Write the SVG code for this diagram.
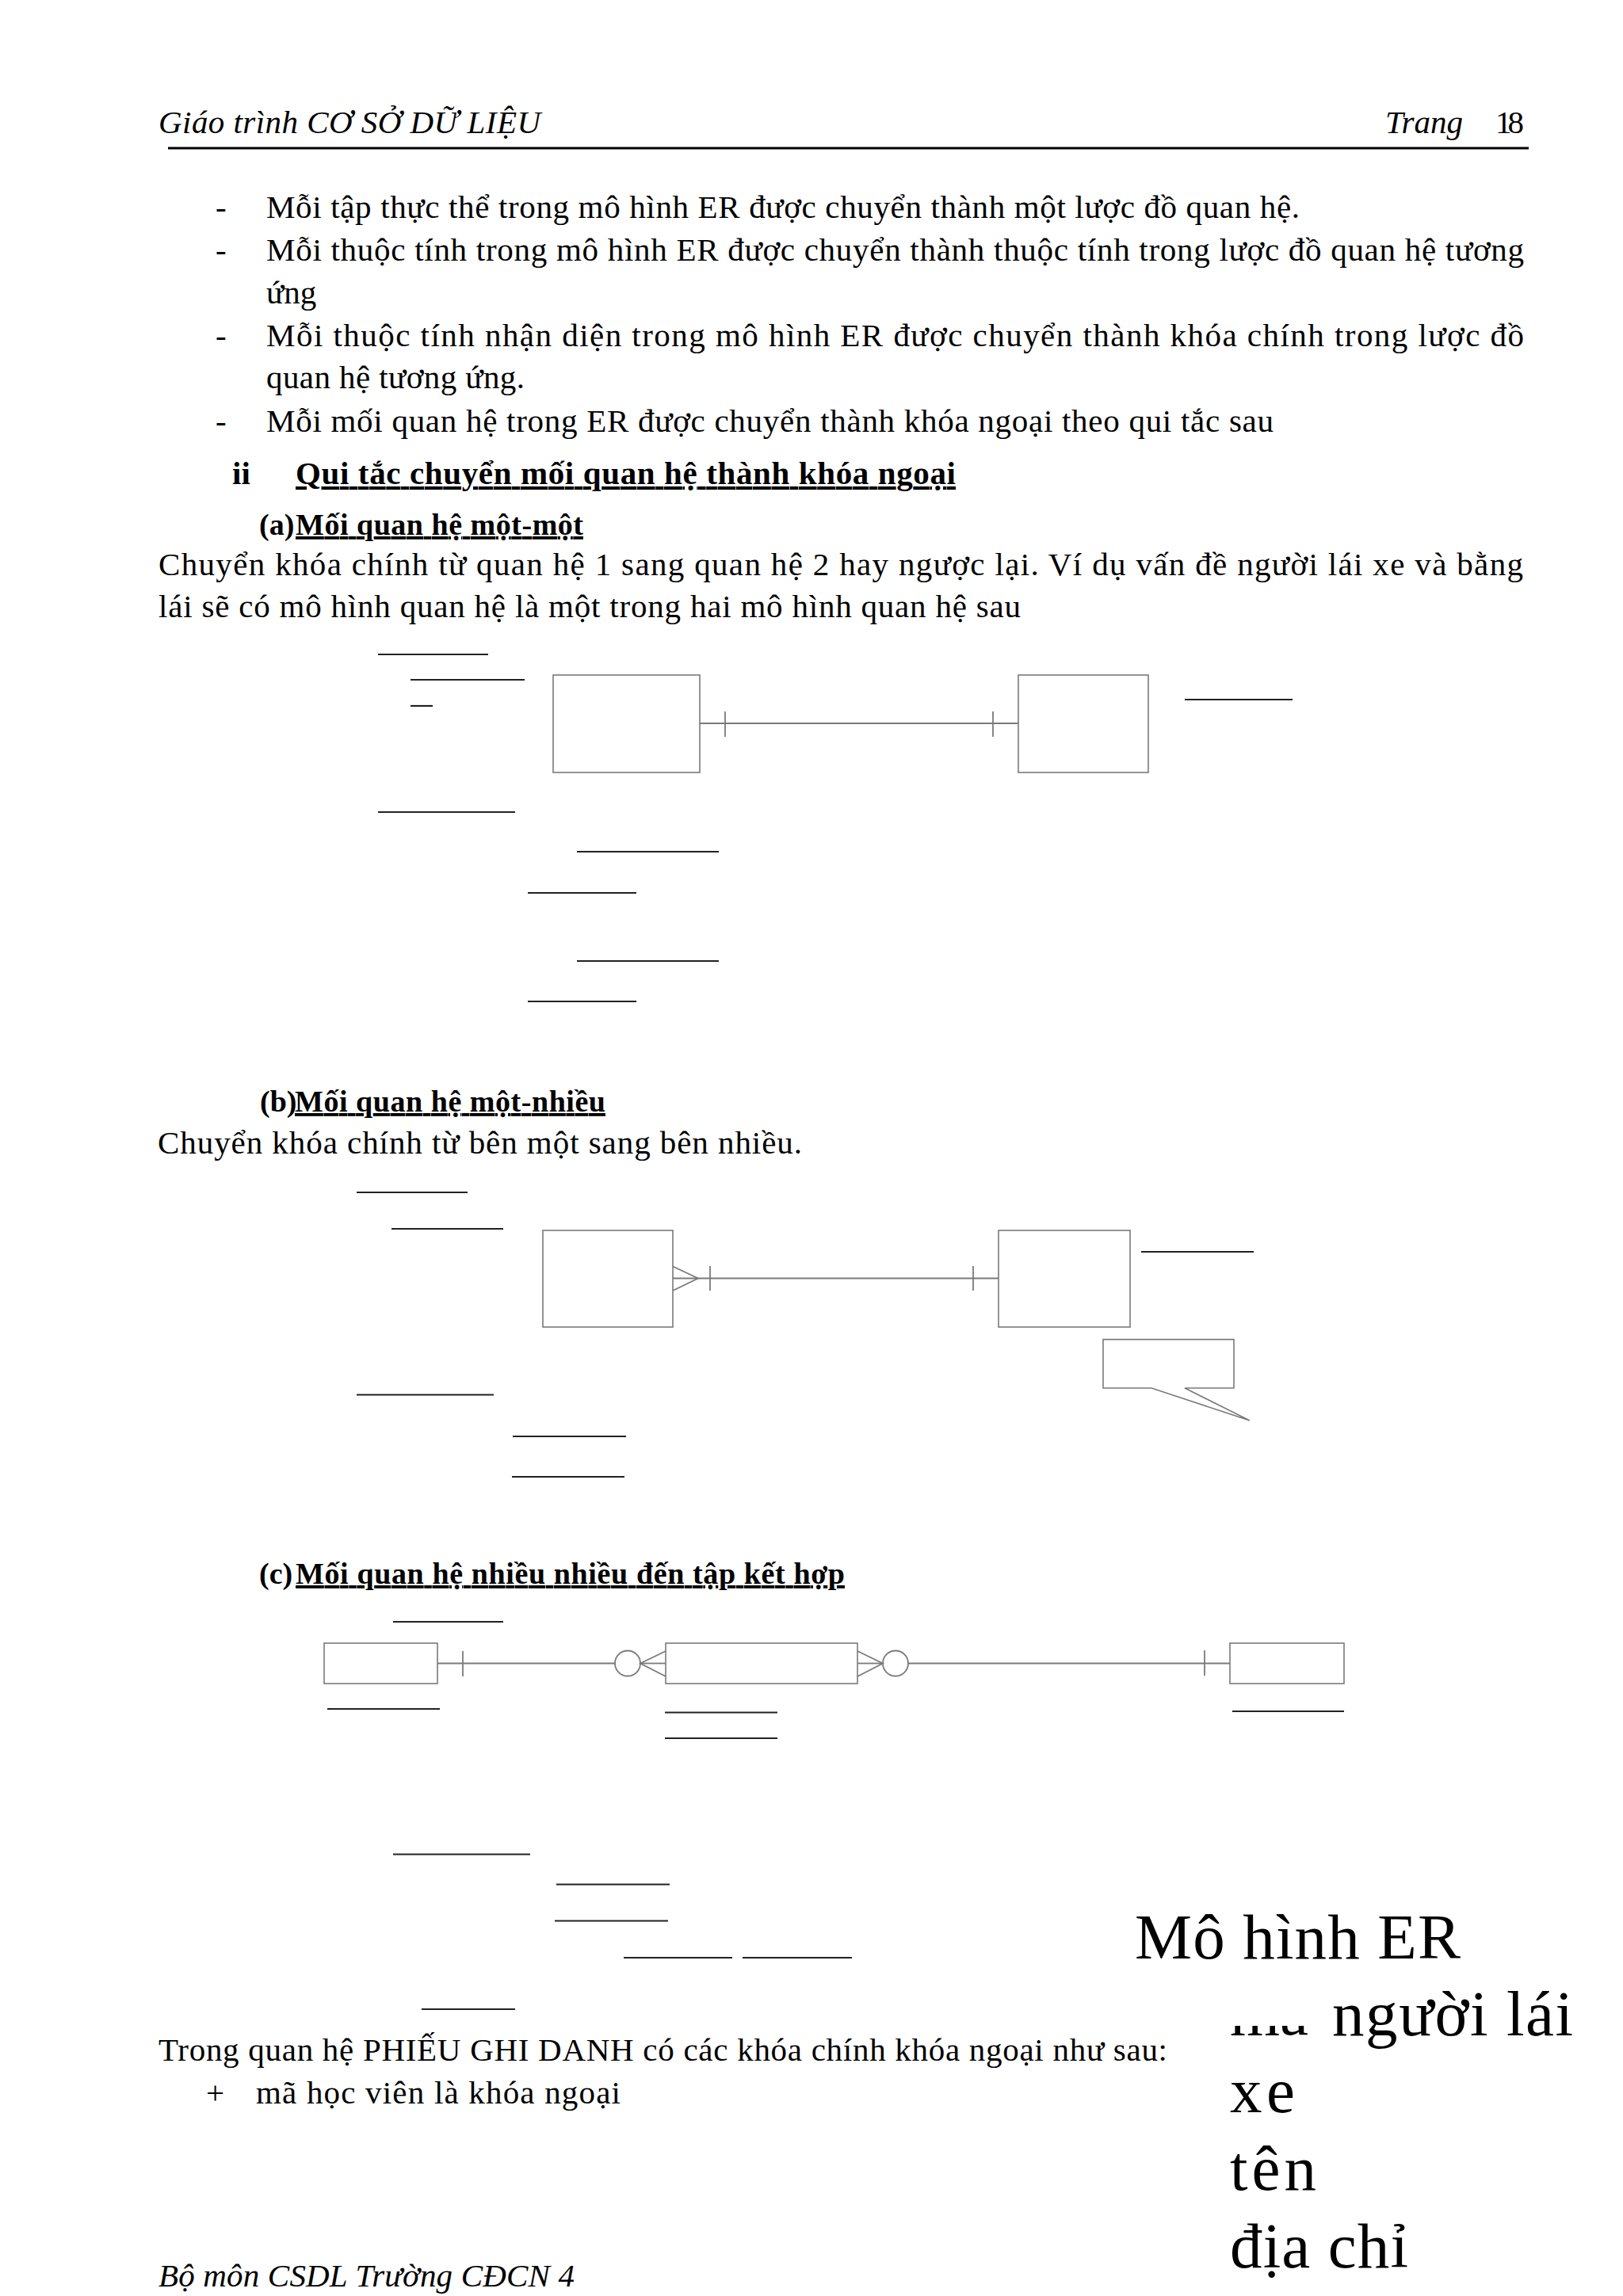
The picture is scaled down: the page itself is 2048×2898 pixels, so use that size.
<svg xmlns="http://www.w3.org/2000/svg" width="2048" height="2898" viewBox="0 0 2048 2898">
<defs>
<style>
.t{font-family:"Liberation Serif","Times New Roman",serif;font-size:41px;fill:#000}
.i{font-style:italic}
.b{font-weight:bold}
.h{font-size:38px;font-weight:bold}
.u{text-decoration:underline}
.big{font-family:"Liberation Serif","Times New Roman",serif;font-size:81px;fill:#000}
.ent{fill:#fff;stroke:#7a7a7a;stroke-width:1.6}
.con{fill:none;stroke:#7a7a7a;stroke-width:1.8}
.key{stroke:#222;stroke-width:2.2}
</style>
<clipPath id="maclip"><rect x="1540" y="2557" width="140" height="40"/></clipPath>
</defs>
<rect x="0" y="0" width="2048" height="2898" fill="#fff"/>

<g id="page-text">
<text class="t i" x="200" y="168" textLength="482" lengthAdjust="spacing">Giáo trình CƠ SỞ DỮ LIỆU</text>
<text class="t i" x="1748" y="168" textLength="98" lengthAdjust="spacing">Trang</text>
<text class="t" x="1887" y="168" textLength="36" lengthAdjust="spacing">18</text>
<line x1="212" y1="187" x2="1929" y2="187" stroke="#000" stroke-width="3"/>

<text class="t" x="272" y="275">-</text>
<text class="t" x="336" y="275" textLength="1304" lengthAdjust="spacing">Mỗi tập thực thể trong mô hình ER được chuyển thành một lược đồ quan hệ.</text>
<text class="t" x="272" y="329">-</text>
<text class="t" x="336" y="329" textLength="1587" lengthAdjust="spacing">Mỗi thuộc tính trong mô hình ER được chuyển thành thuộc tính trong lược đồ quan hệ tương</text>
<text class="t" x="336" y="383">ứng</text>
<text class="t" x="272" y="437">-</text>
<text class="t" x="336" y="437" textLength="1587" lengthAdjust="spacing">Mỗi thuộc tính nhận diện trong mô hình ER được chuyển thành khóa chính trong lược đồ</text>
<text class="t" x="336" y="490" textLength="326" lengthAdjust="spacing">quan hệ tương ứng.</text>
<text class="t" x="272" y="545">-</text>
<text class="t" x="336" y="545" textLength="1271" lengthAdjust="spacing">Mỗi mối quan hệ trong ER được chuyển thành khóa ngoại theo qui tắc sau</text>

<text class="t b" x="293" y="611">ii</text>
<text class="t b u" x="373" y="611" textLength="833" lengthAdjust="spacing">Qui tắc chuyển mối quan hệ thành khóa ngoại</text>

<text class="t h" x="327" y="675">(a)</text>
<text class="t h u" x="373" y="675" textLength="363" lengthAdjust="spacing">Mối quan hệ một-một</text>
<text class="t" x="200" y="726" textLength="1722" lengthAdjust="spacing">Chuyển khóa chính từ quan hệ 1 sang quan hệ 2 hay ngược lại. Ví dụ vấn đề người lái xe và bằng</text>
<text class="t" x="200" y="779" textLength="1088" lengthAdjust="spacing">lái sẽ có mô hình quan hệ là một trong hai mô hình quan hệ sau</text>

<text class="t h" x="328" y="1403">(b)</text>
<text class="t h u" x="372" y="1403" textLength="392" lengthAdjust="spacing">Mối quan hệ một-nhiều</text>
<text class="t" x="199" y="1456" textLength="813" lengthAdjust="spacing">Chuyển khóa chính từ bên một sang bên nhiều.</text>

<text class="t h" x="327" y="1999">(c)</text>
<text class="t h u" x="373" y="1999" textLength="693" lengthAdjust="spacing">Mối quan hệ nhiều nhiều đến tập kết hợp</text>

<text class="t" x="200" y="2601" textLength="1273" lengthAdjust="spacing">Trong quan hệ PHIẾU GHI DANH có các khóa chính khóa ngoại như sau:</text>
<text class="t" x="260" y="2655">+</text>
<text class="t" x="323" y="2655" textLength="460" lengthAdjust="spacing">mã học viên là khóa ngoại</text>

<text class="t i" x="200" y="2886" textLength="525" lengthAdjust="spacing">Bộ môn CSDL Trường CĐCN 4</text>
</g>

<g id="big-label">
<text class="big" x="1432" y="2472" textLength="411" lengthAdjust="spacing">Mô hình ER</text>
<text class="big" x="1552" y="2569" clip-path="url(#maclip)">mã</text>
<text class="big" x="1681" y="2569" textLength="304" lengthAdjust="spacing">người lái</text>
<text class="big" x="1552" y="2666" textLength="82" lengthAdjust="spacing">xe</text>
<text class="big" x="1552" y="2764" textLength="109" lengthAdjust="spacing">tên</text>
<text class="big" x="1552" y="2862" textLength="225" lengthAdjust="spacing">địa chỉ</text>
</g>

<!-- (a) one-to-one -->
<g id="a-entity-left"><rect class="ent" x="698" y="852" width="185" height="123"/></g>
<g id="a-entity-right"><rect class="ent" x="1285" y="852" width="164" height="123"/></g>
<g id="a-keys">
<line class="key" x1="477" y1="826" x2="616" y2="826"/>
<line class="key" x1="518" y1="858" x2="662" y2="858"/>
<line class="key" x1="518" y1="891" x2="546" y2="891"/>
<line class="key" x1="1495" y1="883" x2="1631" y2="883"/>
<line class="key" x1="477" y1="1025" x2="650" y2="1025"/>
<line class="key" x1="728" y1="1075" x2="907" y2="1075"/>
<line class="key" x1="666" y1="1127" x2="803" y2="1127"/>
<line class="key" x1="728" y1="1213" x2="907" y2="1213"/>
<line class="key" x1="666" y1="1264" x2="803" y2="1264"/>
</g>

<!-- (b) one-to-many -->
<g id="b-entity-left"><rect class="ent" x="685" y="1553" width="164" height="122"/></g>
<g id="b-entity-right"><rect class="ent" x="1260" y="1553" width="166" height="122"/></g>
<g id="b-callout"><path class="ent" d="M1392,1690.6 H1557 V1752 H1495 L1577,1793 L1453,1752 H1392 Z"/></g>
<g id="b-keys">
<line class="key" x1="450" y1="1505" x2="590" y2="1505"/>
<line class="key" x1="494" y1="1551" x2="635" y2="1551"/>
<line class="key" x1="1440" y1="1580" x2="1582" y2="1580"/>
<line class="key" x1="450" y1="1760.5" x2="623" y2="1760.5"/>
<line class="key" x1="647" y1="1813" x2="790" y2="1813"/>
<line class="key" x1="646" y1="1864" x2="788" y2="1864"/>
</g>

<!-- (c) many-to-many -->
<g id="c-entity-left"><rect class="ent" x="409" y="2074" width="143" height="51"/></g>
<g id="c-entity-middle"><rect class="ent" x="840" y="2074" width="242" height="51"/></g>
<g id="c-entity-right"><rect class="ent" x="1552" y="2074" width="144" height="51"/></g>
<g id="c-keys">
<line class="key" x1="496" y1="2047" x2="635" y2="2047"/>
<line class="key" x1="413" y1="2157" x2="555" y2="2157"/>
<line class="key" x1="839" y1="2161.5" x2="981" y2="2161.5"/>
<line class="key" x1="839" y1="2194" x2="981" y2="2194"/>
<line class="key" x1="1555" y1="2160" x2="1696" y2="2160"/>
<line class="key" x1="496" y1="2340.5" x2="669" y2="2340.5"/>
<line class="key" x1="702" y1="2378.5" x2="845" y2="2378.5"/>
<line class="key" x1="700" y1="2424.5" x2="843" y2="2424.5"/>
<line class="key" x1="787" y1="2471" x2="924" y2="2471"/>
<line class="key" x1="937" y1="2471" x2="1075" y2="2471"/>
<line class="key" x1="532" y1="2536" x2="650" y2="2536"/>
</g>

<g id="connectors">
<!-- (a) -->
<line class="con" x1="883" y1="913" x2="1285" y2="913"/>
<line class="con" x1="915" y1="898" x2="915" y2="930"/>
<line class="con" x1="1253" y1="898" x2="1253" y2="930"/>
<!-- (b) -->
<line class="con" x1="849" y1="1613.5" x2="1260" y2="1613.5"/>
<polyline class="con" points="849,1598.5 881,1613.5 849,1629"/>
<line class="con" x1="896" y1="1598" x2="896" y2="1629"/>
<line class="con" x1="1228" y1="1598" x2="1228" y2="1629"/>
<!-- (c) -->
<line class="con" x1="552" y1="2099.5" x2="776" y2="2099.5"/>
<line class="con" x1="584" y1="2084" x2="584" y2="2116"/>
<circle class="con" cx="792" cy="2099.5" r="16"/>
<line class="con" x1="808" y1="2099.5" x2="840" y2="2099.5"/>
<polyline class="con" points="840,2084 808,2099.5 840,2116"/>
<line class="con" x1="1082" y1="2099.5" x2="1114" y2="2099.5"/>
<polyline class="con" points="1082,2084 1114,2099.5 1082,2116"/>
<circle class="con" cx="1130" cy="2099.5" r="16"/>
<line class="con" x1="1146" y1="2099.5" x2="1552" y2="2099.5"/>
<line class="con" x1="1520" y1="2083" x2="1520" y2="2115"/>
</g>
</svg>
